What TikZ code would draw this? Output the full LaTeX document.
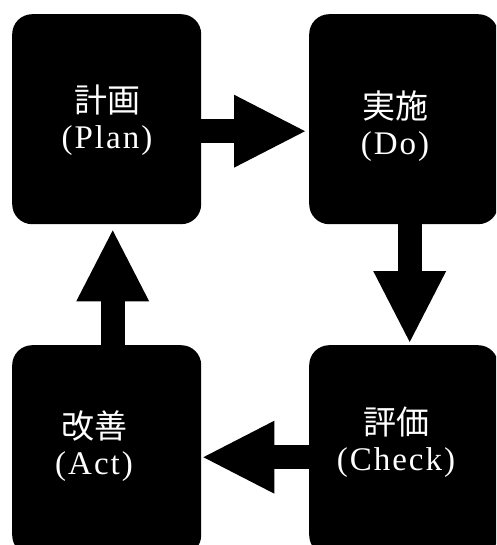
\documentclass[tikz,border=0pt]{standalone}
\usepackage{fontspec}
\newfontfamily\cjk{Noto Sans CJK JP}
\setmainfont[LetterSpace=6]{Liberation Serif}
\usetikzlibrary{arrows.meta}
\tikzset{
  box/.style={fill=black, draw=none, rounded corners=20pt, inner sep=0pt,
    minimum width=189pt, minimum height=210pt, anchor=north west},
  lbl/.style={text=white, align=center, inner sep=0pt,
    font=\fontsize{33}{36}\selectfont},
  flow/.style={line width=24pt, line cap=butt,
    -{Triangle[length=71pt,width=73pt,line width=0pt]}}
}
\begin{document}
\begin{tikzpicture}[x=1pt,y=-1pt]
\useasboundingbox (0,0) rectangle (496,545);
\begin{scope}
\clip (0,0) rectangle (496,545);
\node[box] (plan) at (12,14) {};
\node[box] (do) at (309,14) {};
\node[box] (act) at (12,345) {};
\node[box] (check) at (309,345) {};
\end{scope}
\node[lbl] (tplan) at (107,120) {{\cjk 計画}\\(Plan)};
\node[lbl] (tdo) at (395,126) {{\cjk 実施}\\(Do)};
\node[lbl] (tcheck) at (396,442) {{\cjk 評価}\\(Check)};
\node[lbl] (tact) at (94,446) {{\cjk 改善}\\(Act)};
\draw[flow] ([yshift=-12pt]plan.east) -- ([yshift=-12pt,xshift=-4pt]do.west);
\draw[flow] ([xshift=6pt]do.south) -- ([xshift=6pt,yshift=3pt]check.north);
\draw[flow] ([yshift=-7pt]check.west) -- ([yshift=-7pt,xshift=2pt]act.east);
\draw[flow] ([xshift=6pt]act.north) -- ([xshift=6pt,yshift=-6pt]plan.south);
\end{tikzpicture}
\end{document}
